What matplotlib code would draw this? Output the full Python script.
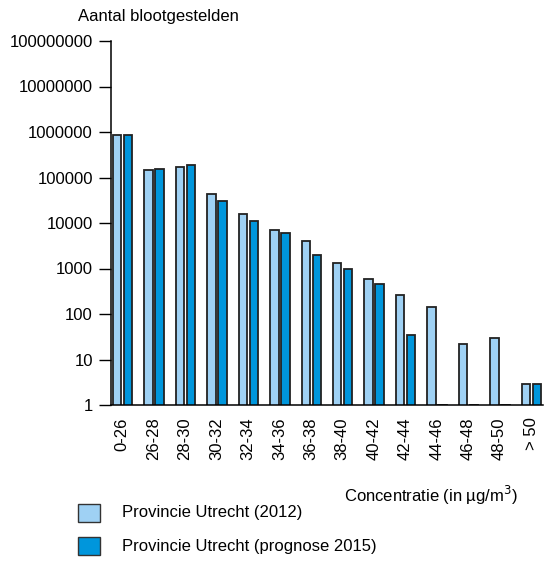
import matplotlib
matplotlib.use("Agg")
import matplotlib.pyplot as plt
import numpy as np
from matplotlib.patches import Rectangle

categories = ["0-26", "26-28", "28-30", "30-32", "32-34", "34-36", "36-38",
              "38-40", "40-42", "42-44", "44-46", "46-48", "48-50", "> 50"]
utrecht_2012 = [860000, 146000, 170000, 44000, 16000, 7100, 4100,
                1340, 600, 262, 140, 22, 30, 2.85]
utrecht_2015 = [860000, 154000, 188000, 30500, 11200, 5900, 1950,
                960, 455, 34.5, 1, 1, 1, 2.85]
ytick_values = [1, 10, 100, 1000, 10000, 100000, 1000000, 10000000, 100000000]
ytick_labels = [str(v) for v in ytick_values]

series_names = ["Provincie Utrecht (2012)", "Provincie Utrecht (prognose 2015)"]
light = "#9fd1f4"
dark = "#0096dc"
edge = "#222222"
FS = 12

plt.rcParams['font.family'] = ['Liberation Sans', 'DejaVu Sans']

fig = plt.figure(figsize=(5.44, 5.61), dpi=100)
ax = fig.add_axes([111/544, 1 - 405/561, (543 - 111)/544, (405 - 41)/561])

x = np.arange(len(categories))
w = 0.27
ax.bar(x - 0.025 - w/2, utrecht_2012, width=w, color=light,
       edgecolor=edge, linewidth=1.3)
ax.bar(x + 0.055 + w/2, utrecht_2015, width=w, color=dark,
       edgecolor=edge, linewidth=1.3)

ax.set_yscale('log')
ax.set_ylim(1, 1e8)
ax.set_xlim(-0.35, 13.38)
ax.set_yticks(ytick_values)
ax.set_yticklabels(ytick_labels, fontsize=FS)
ax.yaxis.set_minor_locator(matplotlib.ticker.NullLocator())
ax.tick_params(axis='y', length=9, width=1, direction='out', pad=4)
ax.set_xticks(x)
ax.set_xticklabels(categories, rotation=90, fontsize=FS)
ax.tick_params(axis='x', length=0, pad=9)
for s in ['top', 'right']:
    ax.spines[s].set_visible(False)
ax.spines['left'].set_linewidth(1.1)
ax.spines['bottom'].set_linewidth(1.1)

fig.text(78/544, 1 - 21/561, "Aantal blootgestelden", fontsize=FS,
         ha='left', va='baseline')
fig.text(518/544, 1 - 495/561, "Concentratie (in µg/m$^3$)", fontsize=FS,
         ha='right', va='center')

for i, (name, col) in enumerate(zip(series_names, [light, dark])):
    yc = [513, 546][i]
    fig.patches.append(Rectangle((78/544, 1 - (yc + 9)/561), 22/544, 18/561,
                                 transform=fig.transFigure, facecolor=col,
                                 edgecolor='#333333', linewidth=1.0))
    fig.text(122/544, 1 - yc/561, name, fontsize=FS, ha='left', va='center')

fig.savefig("out.png", dpi=100)
